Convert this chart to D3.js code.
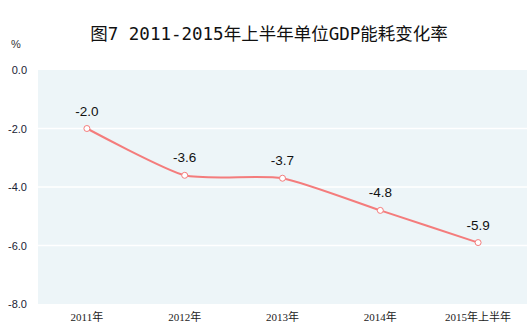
<!DOCTYPE html>
<html>
<head>
<meta charset="utf-8">
<script src="https://cdn.jsdelivr.net/npm/d3@7"></script>
<style>
  html, body { margin: 0; padding: 0; background: #fff; }
  svg { display: block; }
</style>
</head>
<body>
<svg id="chart" width="532" height="334"></svg>
<script>
// Energy use per unit of GDP, year-on-year change (%)
const categories = ["2011年", "2012年", "2013年", "2014年", "2015年上半年"];
const values = [-2.0, -3.6, -3.7, -4.8, -5.9];
const yTicks = [0, -2, -4, -6, -8];
const titleText = "图7 2011-2015年上半年单位GDP能耗变化率";
const unitText = "%";

const fmt = d => (+d).toFixed(1);

const svg = d3.select("#chart");
const plot = { left: 38, right: 527, top: 70, bottom: 304 };

const x = d3.scaleBand().domain(categories).range([plot.left, plot.right]);
const y = d3.scaleLinear().domain([-8, 0]).range([plot.bottom, plot.top]);

// plot background
svg.append("rect")
  .attr("x", plot.left).attr("y", plot.top)
  .attr("width", plot.right - plot.left).attr("height", plot.bottom - plot.top)
  .attr("fill", "#EDF5F8");

// horizontal grid lines
svg.append("g")
  .selectAll("line")
  .data(yTicks.filter(d => d !== 0 && d !== -8))
  .join("line")
  .attr("x1", plot.left).attr("x2", plot.right)
  .attr("y1", d => y(d)).attr("y2", d => y(d))
  .attr("stroke", "#fff").attr("stroke-width", 1.5);

// y axis labels
const yAxis = d3.axisLeft(y).tickValues(yTicks).tickFormat(fmt).tickSize(0).tickPadding(0);
svg.append("g")
  .attr("transform", `translate(${27},0)`)
  .call(yAxis)
  .call(g => g.select(".domain").remove())
  .call(g => g.selectAll("text")
    .attr("font-family", "'Liberation Sans', Arial, sans-serif")
    .attr("font-size", 11)
    .attr("fill", "#1a2233"));

// x axis labels
const xAxis = d3.axisBottom(x).tickSize(0).tickPadding(0);
svg.append("g")
  .attr("transform", `translate(0,${plot.bottom + 9})`)
  .call(xAxis)
  .call(g => g.select(".domain").remove())
  .call(g => g.selectAll("text")
    .attr("font-family", "'Liberation Serif', 'Noto Sans CJK SC', serif")
    .attr("font-size", 11)
    .attr("fill", "#222"));

// line
const cx = d => x(d) + x.bandwidth() / 2;
const line = d3.line()
  .x((d, i) => cx(categories[i]))
  .y(d => y(d))
  .curve(d3.curveCardinal.tension(0.4));

svg.append("path")
  .datum(values)
  .attr("d", line)
  .attr("fill", "none")
  .attr("stroke", "#F47C7C")
  .attr("stroke-width", 2);

// markers
svg.append("g")
  .selectAll("circle")
  .data(values)
  .join("circle")
  .attr("cx", (d, i) => cx(categories[i]))
  .attr("cy", d => y(d))
  .attr("r", 3)
  .attr("fill", "#fff")
  .attr("stroke", "#F47C7C")
  .attr("stroke-width", 1);

// value labels
svg.append("g")
  .selectAll("text")
  .data(values)
  .join("text")
  .attr("x", (d, i) => cx(categories[i]))
  .attr("y", d => y(d) - 13)
  .attr("text-anchor", "middle")
  .attr("font-family", "'Liberation Sans', Arial, sans-serif")
  .attr("font-size", 13.5)
  .attr("fill", "#111")
  .text(fmt);

// title
svg.append("text")
  .attr("x", 269).attr("y", 40)
  .attr("text-anchor", "middle")
  .attr("font-family", "'DejaVu Sans Mono', 'Noto Sans CJK SC', monospace")
  .attr("font-size", 17.5)
  .attr("fill", "#111")
  .text(titleText);

// unit
svg.append("text")
  .attr("x", 11).attr("y", 48)
  .attr("font-family", "'Liberation Sans', Arial, sans-serif")
  .attr("font-size", 11)
  .attr("fill", "#333")
  .text(unitText);
</script>
</body>
</html>
